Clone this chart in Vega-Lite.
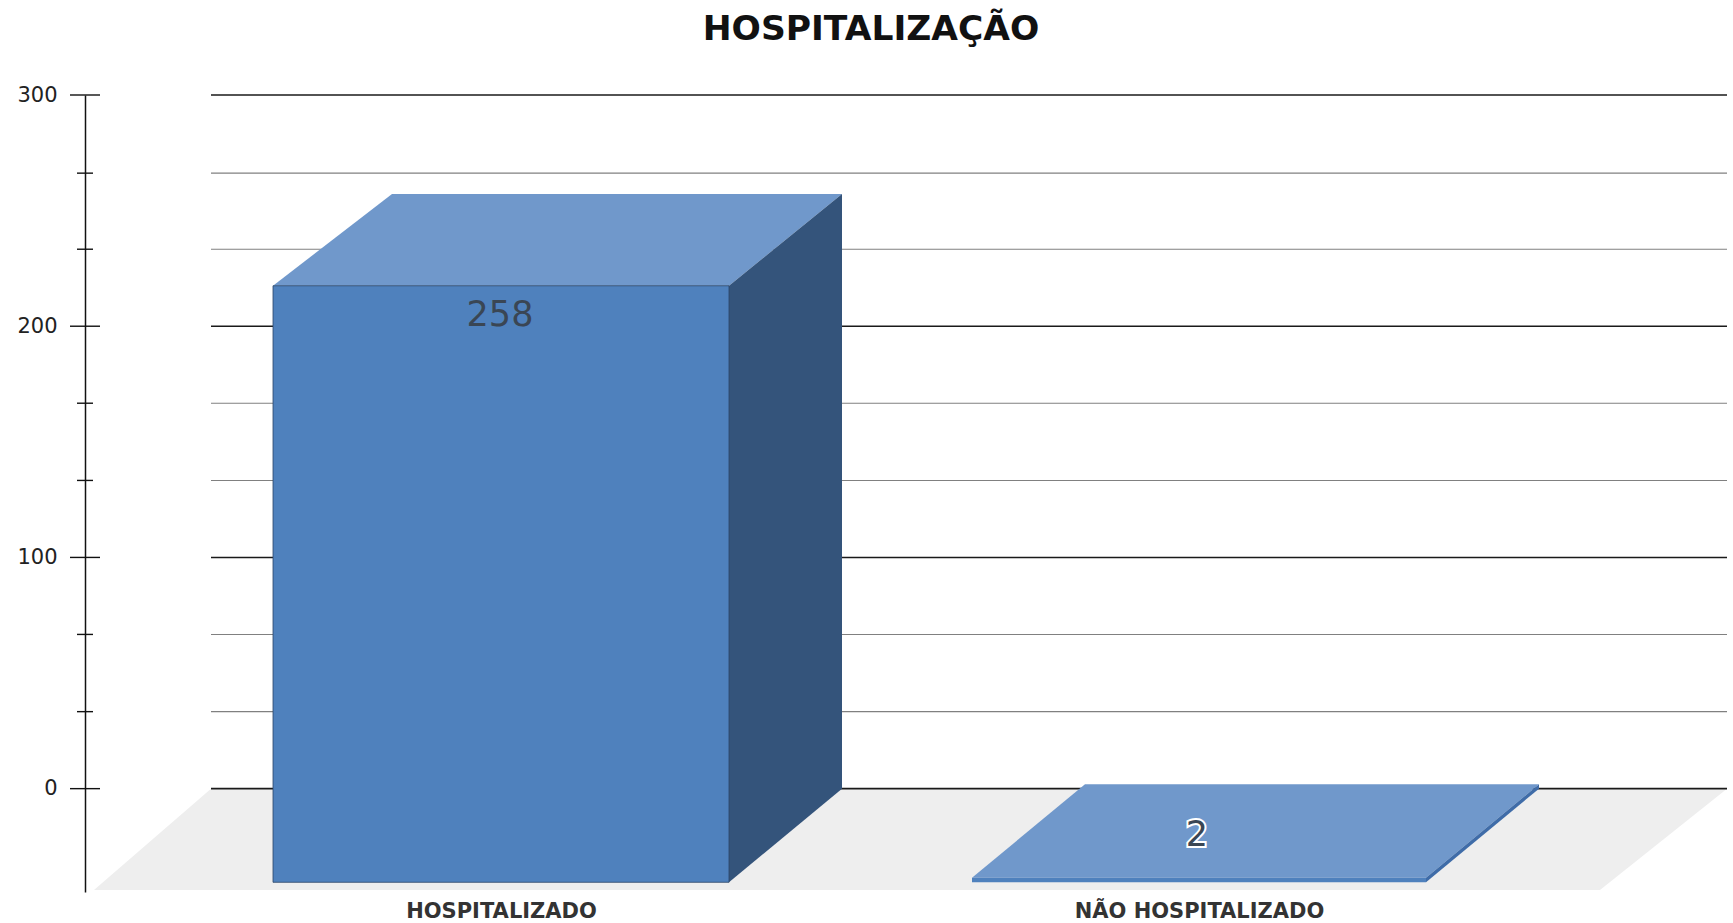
{"$schema":"https://vega.github.io/schema/vega-lite/v6.json","width":1648,"height":797,"autosize":"none","padding":{"left":85,"top":95,"right":0,"bottom":31},"background":"white",
"title":{"text":"HOSPITALIZAÇÃO","anchor":"middle","dx":-38,"offset":37,"font":"DejaVu Sans","fontSize":34.5,"fontWeight":"bold","color":"#111111"},
"config":{"view":{"stroke":null}},
"resolve":{"scale":{"color":"independent"}},
"datasets":{
"floor":[{"x":9,"x2":1515,"y":-43.8},{"x":126,"x2":1642,"y":0}],
"grid":[{"value":0,"kind":"major","x":126,"x2":1642},{"value":33.3,"kind":"minor","x":126,"x2":1642},{"value":66.7,"kind":"minor","x":126,"x2":1642},{"value":100,"kind":"major","x":126,"x2":1642},{"value":133.3,"kind":"minor","x":126,"x2":1642},{"value":166.7,"kind":"minor","x":126,"x2":1642},{"value":200,"kind":"major","x":126,"x2":1642},{"value":233.3,"kind":"minor","x":126,"x2":1642},{"value":266.2,"kind":"minor","x":126,"x2":1642},{"value":300,"kind":"major","x":126,"x2":1642}],
"ticks":[{"value":0,"kind":"major","x":-15,"x2":15},{"value":33.3,"kind":"minor","x":-8,"x2":8},{"value":66.7,"kind":"minor","x":-8,"x2":8},{"value":100,"kind":"major","x":-15,"x2":15},{"value":133.3,"kind":"minor","x":-8,"x2":8},{"value":166.7,"kind":"minor","x":-8,"x2":8},{"value":200,"kind":"major","x":-15,"x2":15},{"value":233.3,"kind":"minor","x":-8,"x2":8},{"value":266.2,"kind":"minor","x":-8,"x2":8},{"value":300,"kind":"major","x":-15,"x2":15}],
"tops":[{"bar":"HOSPITALIZADO","x":188,"x2":644,"y":217.5},{"bar":"HOSPITALIZADO","x":307,"x2":757,"y":257.2},{"bar":"NÃO HOSPITALIZADO","x":887,"x2":1341,"y":-38.5},{"bar":"NÃO HOSPITALIZADO","x":1000,"x2":1454,"y":1.9}],
"sides":[{"bar":"HOSPITALIZADO","x":644,"y":-40.5,"y2":217.5},{"bar":"HOSPITALIZADO","x":757,"y":0,"y2":257.2},{"bar":"NÃO HOSPITALIZADO","x":1341,"y":-40.5,"y2":-38.5},{"bar":"NÃO HOSPITALIZADO","x":1454,"y":0,"y2":1.9}],
"fronts":[{"bar":"HOSPITALIZADO","x":188,"x2":644,"y":-40.5,"y2":217.5},{"bar":"NÃO HOSPITALIZADO","x":887,"x2":1341,"y":-40.5,"y2":-38.5}],
"labels":[{"bar":"HOSPITALIZADO","label":"258","x":415,"y":204.9},{"bar":"NÃO HOSPITALIZADO","label":"2","x":1112,"y":-20}]
},
"encoding":{
"x":{"field":"x","type":"quantitative","scale":{"domain":[0,1648],"nice":false,"zero":false},"axis":{"title":null,"grid":false,"domain":false,"ticks":false,"values":[416,1114],"labelExpr":"datum.value<800?'HOSPITALIZADO':'NÃO HOSPITALIZADO'","labelFont":"DejaVu Sans","labelFontWeight":"bold","labelFontSize":21,"labelLimit":500,"labelColor":"#333333","labelPadding":8,"labelOverlap":false}},
"y":{"field":"y","type":"quantitative","scale":{"domain":[-44.7,300],"nice":false,"zero":false},"axis":{"title":null,"grid":false,"values":[0,100,200,300],"ticks":false,"labelPadding":28,"labelFont":"DejaVu Sans","labelFontSize":21,"labelColor":"#222222","domainColor":"#111111","domainWidth":1.5}}
},
"layer":[
{"data":{"name":"floor"},"mark":{"type":"area","orient":"horizontal","color":"#eeeeee"},"encoding":{"x2":{"field":"x2"}}},
{"data":{"name":"grid"},"mark":{"type":"rule"},"encoding":{"y":{"field":"value","type":"quantitative"},"x2":{"field":"x2"},"color":{"field":"kind","type":"nominal","scale":{"domain":["major","minor"],"range":["#1a1a1a","#808080"]},"legend":null},"strokeWidth":{"field":"kind","type":"nominal","scale":{"domain":["major","minor"],"range":[1.6,1.1]},"legend":null}}},
{"data":{"name":"ticks"},"mark":{"type":"rule","strokeWidth":1.4,"color":"#111111"},"encoding":{"y":{"field":"value","type":"quantitative"},"x2":{"field":"x2"}}},
{"data":{"name":"tops"},"mark":{"type":"area","orient":"horizontal","color":"#7098cb"},"encoding":{"x2":{"field":"x2"},"detail":{"field":"bar"}}},
{"data":{"name":"sides"},"mark":{"type":"area","orient":"vertical"},"encoding":{"y2":{"field":"y2"},"detail":{"field":"bar"},"color":{"field":"bar","type":"nominal","scale":{"domain":["HOSPITALIZADO","NÃO HOSPITALIZADO"],"range":["#34547b","#3f6ca8"]},"legend":null}}},
{"data":{"name":"fronts"},"mark":{"type":"rect","color":"#4f81bd","stroke":"#2b4566","strokeWidth":1},"encoding":{"x2":{"field":"x2"},"y2":{"field":"y2"},"strokeOpacity":{"condition":{"test":"datum.bar==='HOSPITALIZADO'","value":0.8},"value":0}}},
{"data":{"name":"labels"},"transform":[{"filter":"datum.label==='2'"}],"mark":{"type":"text","font":"DejaVu Sans","fontSize":35,"stroke":"white","strokeWidth":4,"fill":"white"},"encoding":{"text":{"field":"label"}}},
{"data":{"name":"labels"},"mark":{"type":"text","font":"DejaVu Sans","fontSize":35,"fill":"#3a4654"},"encoding":{"text":{"field":"label"}}}
]}
